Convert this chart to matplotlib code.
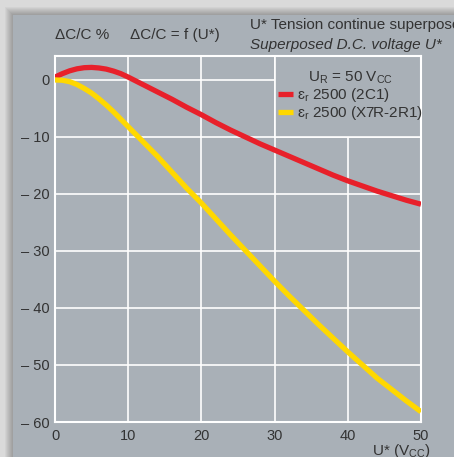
import matplotlib
matplotlib.use('Agg')
import matplotlib.pyplot as plt
from matplotlib.patches import Rectangle

plt.rcParams['font.family'] = ['Liberation Sans Narrow', 'Liberation Sans', 'DejaVu Sans']
plt.rcParams['mathtext.fontset'] = 'custom'
plt.rcParams['mathtext.rm'] = 'Liberation Sans'
plt.rcParams['mathtext.it'] = 'Liberation Sans:italic'

# superposed DC voltage U* (Vcc)
U = [0, 1, 2, 3, 4, 5, 6, 7, 8, 9, 10, 11, 12, 14, 16, 18, 20, 22, 24, 26, 28, 30,
     32, 34, 36, 38, 40, 42, 44, 46, 48, 50]
# capacitance change dC/C (%)
dC_2C1 = [0.5, 1.1, 1.6, 1.95, 2.15, 2.2, 2.1, 1.9, 1.55, 1.1, 0.5, -0.15, -0.8,
          -2.1, -3.4, -4.8, -6.1, -7.5, -8.8, -10.0, -11.2, -12.3, -13.4, -14.5,
          -15.6, -16.7, -17.7, -18.6, -19.5, -20.3, -21.1, -21.8]
dC_X7R = [0.0, -0.05, -0.3, -0.8, -1.5, -2.3, -3.3, -4.4, -5.6, -6.9, -8.2, -9.5,
          -10.8, -13.4, -16.2, -19.0, -21.6, -24.4, -27.2, -29.9, -32.6, -35.3,
          -37.9, -40.4, -42.9, -45.3, -47.7, -50.0, -52.3, -54.3, -56.3, -58.2]
labels = ['ɛ$_\\mathregular{r}$ 2500 (2C1)', 'ɛ$_\\mathregular{r}$ 2500 (X7R-2R1)']
xticks = [0, 10, 20, 30, 40, 50]
yticks = [0, -10, -20, -30, -40, -50, -60]

panel = '#a9b0b7'
txt = '#333333'
W, H = 454, 457

fig = plt.figure(figsize=(W / 100, H / 100), dpi=100, facecolor='#dadada')

# soft shadow around the grey panel
for i in range(8):
    fig.patches.append(Rectangle(((13 - 8 + i) / W, 0), 1, 1 - (15 - 8 + i) / H,
                                 transform=fig.transFigure, facecolor='black',
                                 alpha=0.035, zorder=-2))
fig.patches.append(Rectangle((13 / W, 0), 1, 1 - 15 / H, transform=fig.transFigure,
                             facecolor=panel, zorder=-1))

ax = fig.add_axes([55 / W, 1 - 422 / H, 366 / W, 366 / H])
ax.set_facecolor(panel)
ax.set_xlim(0, 50)
ax.set_ylim(-60, 4.2)
ax.set_xticks(xticks)
ax.set_yticks(yticks)
ax.set_yticklabels(['0' if v == 0 else '– %d' % -v for v in yticks])
ax.tick_params(length=0, labelsize=10.5, colors=txt, pad=4)
ax.tick_params(axis='x', pad=5)
ax.grid(True, color='white', lw=1.2)
ax.set_axisbelow(True)
for s in ax.spines.values():
    s.set_color('white')
    s.set_linewidth(1.5)

# legend area blanks out the grid in the upper right corner
ax.add_patch(Rectangle((30, -10), 20, 14.2, facecolor=panel, edgecolor='white',
                       lw=1.2, zorder=1.5, clip_on=False))

ax.plot(U, dC_2C1, color='#e8202a', lw=3.8, solid_capstyle='butt',
        solid_joinstyle='round', label=labels[0], zorder=3)
ax.plot(U, dC_X7R, color='#ffd800', lw=3.8, solid_capstyle='butt',
        solid_joinstyle='round', label=labels[1], zorder=3)

leg = ax.legend(loc='upper left', bbox_to_anchor=(0.608, 0.962), frameon=False,
                title='U$_\\mathregular{R}$ = 50 V$_\\mathregular{CC}$',
                fontsize=11, title_fontsize=11, handlelength=1.0,
                handletextpad=0.3, labelspacing=0.0, borderpad=0, borderaxespad=0)
for t in leg.get_texts():
    t.set_color(txt)
leg.get_title().set_color(txt)

fig.text(55 / W, 1 - 35 / H, 'ΔC/C %', fontsize=11, color=txt, va='center')
fig.text(130 / W, 1 - 35 / H, 'ΔC/C = f (U*)', fontsize=11, color=txt, va='center')
fig.text(250 / W, 1 - 25 / H, 'U* Tension continue superposée', fontsize=11,
         color=txt, va='center')
fig.text(250 / W, 1 - 45 / H, 'Superposed D.C. voltage U*', fontsize=11,
         color=txt, va='center', style='italic')
fig.text(431 / W, 1 - 451 / H, 'U* (V$_\\mathregular{CC}$)', fontsize=11,
         color=txt, va='center', ha='right')

fig.savefig('out.png', dpi=100, facecolor=fig.get_facecolor())
